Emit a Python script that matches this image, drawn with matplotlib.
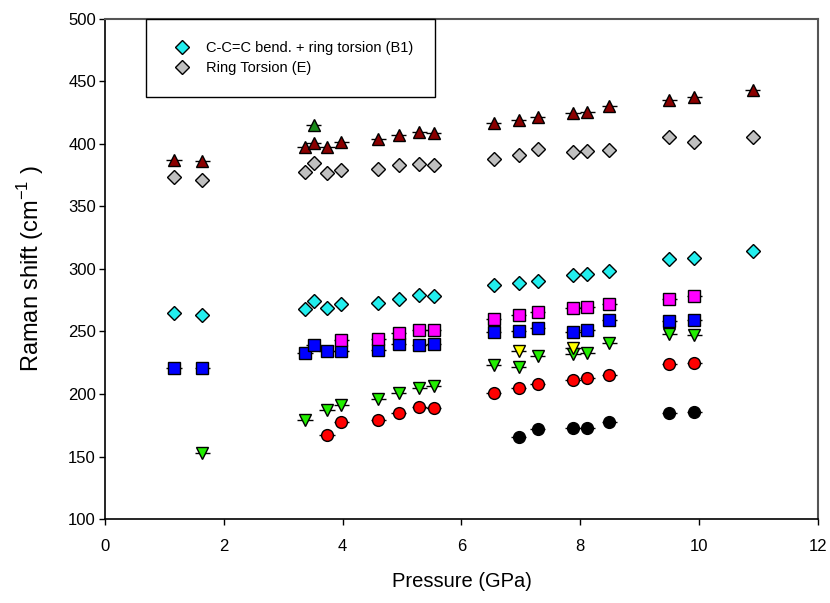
"""
raman_pressure.py
Raman shifts of the low-frequency modes vs pressure.
"""

import matplotlib
matplotlib.use("Agg")
import matplotlib.pyplot as plt

plt.rcParams["font.family"] = ["Liberation Sans", "DejaVu Sans"]
plt.rcParams["mathtext.fontset"] = "custom"
plt.rcParams["mathtext.rm"] = "Liberation Sans"

# ---- data ------------------------------------------------------------------
p_all = [1.16, 1.64, 3.37, 3.51, 3.74, 3.98, 4.60, 4.94, 5.29, 5.53,
         6.54, 6.96, 7.28, 7.88, 8.12, 8.49, 9.50, 9.92, 10.90]

b1_vals = [264.5, 263.2, 267.7, 274.6, 268.5, 272.0, 272.5, 275.8, 279.0, 278.4,
           287.0, 288.6, 290.0, 295.0, 296.0, 298.7, 307.7, 309.0, 314.7]
e_vals = [373.9, 371.2, 377.9, 385.0, 376.5, 379.2, 379.7, 383.2, 384.0, 383.2,
          387.7, 391.0, 396.0, 393.8, 394.6, 395.2, 405.3, 401.4, 405.3]
darkred_vals = [387.2, 386.4, 397.3, 401.0, 397.3, 401.9, 403.7, 407.2, 409.3, 408.5,
                417.0, 419.2, 421.9, 424.5, 425.3, 430.4, 435.0, 437.5, 443.0]

dkgreen_p = [3.51]
dkgreen_vals = [415.0]

magenta_p = [3.98, 4.60, 4.94, 5.29, 5.53, 6.54, 6.96, 7.28, 7.88, 8.12, 8.49, 9.50, 9.92]
magenta_vals = [243.2, 244.3, 249.0, 251.2, 251.2, 260.3, 263.0, 265.6, 268.5, 269.3,
                272.0, 276.0, 278.4]

blue_p = [1.16, 1.64, 3.37, 3.51, 3.74, 3.98, 4.60, 4.94, 5.29, 5.53,
          6.54, 6.96, 7.28, 7.88, 8.12, 8.49, 9.50, 9.92]
blue_vals = [220.8, 220.8, 232.5, 239.2, 234.7, 234.7, 235.2, 240.0, 239.0, 239.7,
             249.6, 250.7, 253.0, 249.6, 251.2, 259.0, 258.4, 259.2]

green_p = [1.64, 3.37, 3.74, 3.98, 4.60, 4.94, 5.29, 5.53,
           6.54, 6.96, 7.28, 7.88, 8.12, 8.49, 9.50, 9.92]
green_vals = [152.8, 179.2, 187.2, 191.2, 196.3, 200.5, 204.8, 206.4,
              223.0, 221.9, 230.4, 231.7, 233.0, 241.0, 247.7, 247.2]

yellow_p = [6.96, 7.88]
yellow_vals = [234.0, 236.5]

red_p = [3.74, 3.98, 4.60, 4.94, 5.29, 5.53, 6.54, 6.96, 7.28, 7.88, 8.12, 8.49, 9.50, 9.92]
red_vals = [167.0, 177.6, 179.2, 185.0, 189.3, 188.5, 201.0, 204.5, 208.0, 211.2,
            212.5, 215.5, 223.7, 224.5]

black_p = [6.96, 7.28, 7.88, 8.12, 8.49, 9.50, 9.92]
black_vals = [165.9, 172.0, 173.0, 173.0, 177.4, 185.0, 185.8]

XERR = 0.13  # small horizontal bars seen on the non-diamond symbols


def main() -> None:
    fig = plt.figure(figsize=(8.3, 6.03), dpi=100)
    ax = fig.add_axes([0.1265, 0.1393, 0.859, 0.8292])

    def series(x, y, marker, color, ms, bars=True, label=None):
        if bars:
            ax.errorbar(x, y, xerr=XERR, fmt="none", ecolor="black",
                        elinewidth=1.0, capsize=0, zorder=2)
        ax.plot(x, y, linestyle="none", marker=marker, markersize=ms,
                markerfacecolor=color, markeredgecolor="black",
                markeredgewidth=1.0, zorder=3, label=label)

    series(p_all, darkred_vals, "^", "#8b0000", 8.5)
    series(dkgreen_p, dkgreen_vals, "^", "#1a8a1a", 8.5)
    series(p_all, e_vals, "D", "#c0c0c0", 7, bars=False, label="Ring Torsion (E)")
    series(p_all, b1_vals, "D", "#22eeee", 7, bars=False,
           label="C-C=C bend. + ring torsion (B1)")
    series(blue_p, blue_vals, "s", "#0000ff", 8)
    series(magenta_p, magenta_vals, "s", "#ff00ff", 8)
    series(green_p, green_vals, "v", "#22ee00", 8.5)
    series(yellow_p, yellow_vals, "v", "#ffff00", 8.5)
    series(red_p, red_vals, "o", "#ff0000", 8.5)
    series(black_p, black_vals, "o", "#000000", 8.5)

    ax.set_xlim(0, 12)
    ax.set_ylim(100, 500)
    ax.set_xticks(range(0, 13, 2))
    ax.set_yticks(range(100, 501, 50))
    ax.tick_params(direction="out", length=4.5, width=1, labelsize=12)
    ax.tick_params(axis="x", pad=10)
    ax.tick_params(axis="y", pad=2)
    for s in ["left", "bottom"]:
        ax.spines[s].set_linewidth(1.2)
    for s in ["top", "right"]:
        ax.spines[s].set_color("#555555")
        ax.spines[s].set_linewidth(1.5)

    ax.set_xlabel("Pressure (GPa)", fontsize=14.5, labelpad=13)
    ax.set_ylabel("Raman shift (cm$^{\\mathregular{-1}}$ )", fontsize=17,
                  labelpad=16)

    h, l = ax.get_legend_handles_labels()
    leg = ax.legend(h[::-1], l[::-1], loc="upper left",
                    bbox_to_anchor=(0.0575, 1.0), fontsize=10.5, frameon=True,
                    fancybox=False, edgecolor="black", framealpha=1,
                    borderpad=1.5, handletextpad=0.6, labelspacing=0.45,
                    borderaxespad=0)
    leg.get_frame().set_linewidth(1.0)

    fig.savefig("out.png", dpi=100)
    plt.close(fig)


if __name__ == "__main__":
    main()
